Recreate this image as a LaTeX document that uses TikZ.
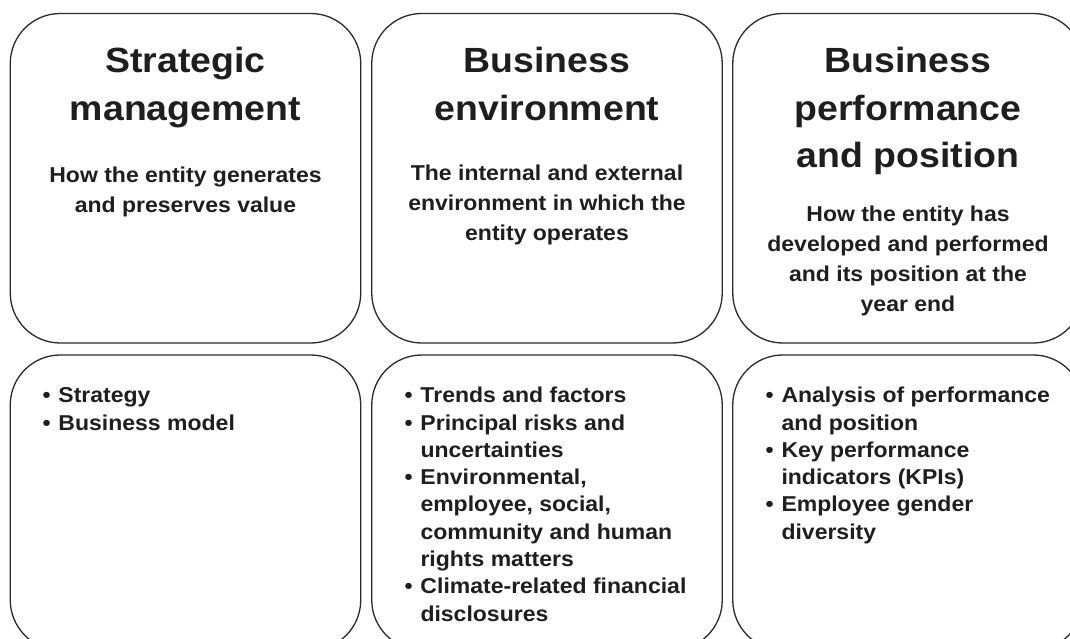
\documentclass[tikz,border=0pt]{standalone}
\usepackage{fontspec}
\setmainfont{Liberation Sans}[FakeStretch=1.07]
\definecolor{linec}{HTML}{2A2A2A}
\definecolor{txtc}{HTML}{1E1E1E}
\newcommand\bl{\makebox[16pt][l]{\textbullet}}
\tikzset{
  panel/.style={draw=linec, line width=1.3pt, rounded corners=50pt, rectangle,
    inner sep=0pt, minimum width=350.5pt},
  toppanel/.style={panel, minimum height=329.5pt},
  botpanel/.style={panel, minimum height=295pt},
  ttl/.style={anchor=north, inner sep=0pt, text=txtc,
    font=\fontsize{35}{47.5}\selectfont\bfseries},
  sub/.style={anchor=north, inner sep=0pt, text=txtc,
    font=\fontsize{21.5}{30}\selectfont\bfseries},
  lst/.style={anchor=north west, inner sep=0pt, text=txtc,
    font=\fontsize{21.5}{27.3}\selectfont\bfseries}
}
\begin{document}
\begin{tikzpicture}[x=1pt,y=-1pt]
\useasboundingbox (0,0) rectangle (1070,639);
\clip (0,0) rectangle (1070,639);
% panels
\node[toppanel] (p1) at (185.5,178.25) {};
\node[toppanel] (p2) at (547,178.25) {};
\node[toppanel] (p3) at (908,178.25) {};
\node[botpanel] (q1) at (185.5,502.5) {};
\node[botpanel] (q2) at (547,502.5) {};
\node[botpanel] (q3) at (908,502.5) {};
% titles (first baseline 72.5 -> north = 72.5-33.25)
\node[ttl] (t1) at (185.5,39.25) {\begin{tabular}{@{}c@{}}Strategic\\management\end{tabular}};
\node[ttl] (t2) at (547,39.25) {\begin{tabular}{@{}c@{}}Business\\environment\end{tabular}};
\node[ttl] (t3) at (908,39.25) {\begin{tabular}{@{}c@{}}Business\\performance\\and position\end{tabular}};
% subtitles (north = baseline - 21)
\node[sub] (s1) at (185.5,161) {\begin{tabular}{@{}c@{}}How the entity generates\\and preserves value\end{tabular}};
\node[sub] (s2) at (547,159.5) {\begin{tabular}{@{}c@{}}The internal and external\\environment in which the\\entity operates\end{tabular}};
\node[sub] (s3) at (908,200) {\begin{tabular}{@{}c@{}}How the entity has\\developed and performed\\and its position at the\\year end\end{tabular}};
% lists (north = baseline - 19.1)
\node[lst] (l1) at (42.3,383.4) {\begin{tabular}{@{}l@{}l@{}}\bl & Strategy\\ \bl & Business model\end{tabular}};
\node[lst] (l2) at (404.3,383.4) {\begin{tabular}{@{}l@{}l@{}}\bl & Trends and factors\\ \bl & Principal risks and\\ & uncertainties\\ \bl & Environmental,\\ & employee, social,\\ & community and human\\ & rights matters\\ \bl & Climate-related financial\\ & disclosures\end{tabular}};
\node[lst] (l3) at (765.3,383.4) {\begin{tabular}{@{}l@{}l@{}}\bl & Analysis of performance\\ & and position\\ \bl & Key performance\\ & indicators (KPIs)\\ \bl & Employee gender\\ & diversity\end{tabular}};
\end{tikzpicture}
\end{document}
